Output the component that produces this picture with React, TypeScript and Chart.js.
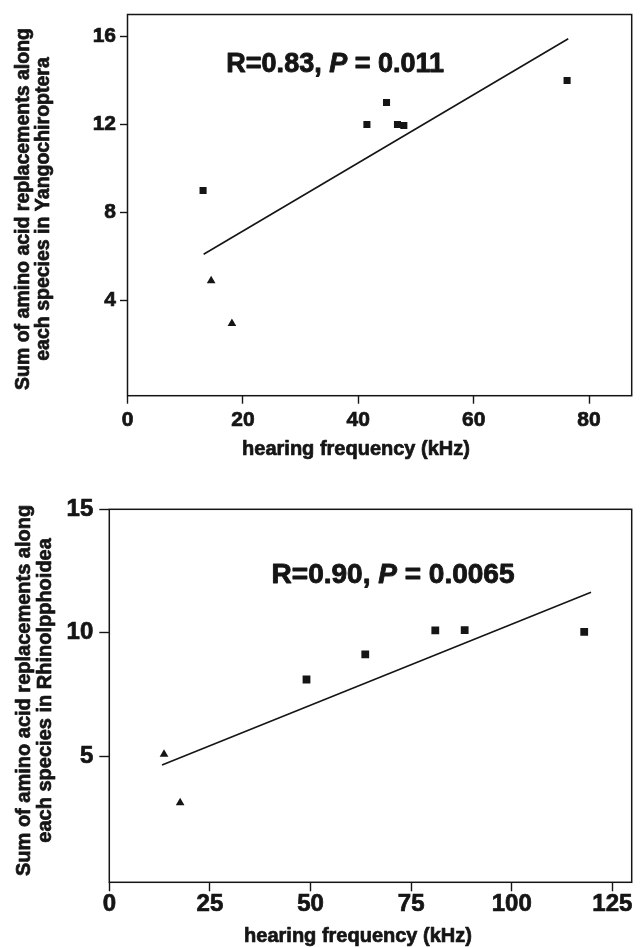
import React, { useEffect, useRef } from 'react';
import { Chart, registerables } from 'chart.js';

Chart.register(...registerables);

const FONT = '"Liberation Sans", Arial, Helvetica, sans-serif';
const INK = '#151515';
const TEXT_STROKE = 0.7;

// ---------- Panel A: Yangochiroptera ----------
const TOP_SQUARE_X = [13.1, 41.5, 44.9, 46.8, 47.9, 76.2];
const TOP_SQUARE_Y = [9, 12, 13, 12, 11.95, 14];
const TOP_TRIANGLE_X = [14.5, 18.1];
const TOP_TRIANGLE_Y = [4.9, 2.95];
const TOP_FIT_X = [13.2, 76.4];
const TOP_FIT_Y = [6.1, 15.9];
const TOP_X_TICKS = [0, 20, 40, 60, 80];
const TOP_Y_TICKS = [4, 8, 12, 16];
const TOP_Y_TITLE = ['Sum of amino acid replacements along', 'each species in Yangochiroptera'];
const TOP_NOTE = ['R=0.83, ', 'P', ' = 0.011'];

// ---------- Panel B: Rhinolophoidea ----------
const BOT_SQUARE_X = [49.0, 63.6, 81.0, 88.3, 118.0];
const BOT_SQUARE_Y = [8.11, 9.13, 10.1, 10.11, 10.04];
const BOT_TRIANGLE_X = [13.6, 17.6];
const BOT_TRIANGLE_Y = [5.08, 3.12];
const BOT_FIT_X = [13.1, 119.7];
const BOT_FIT_Y = [4.65, 11.64];
const BOT_X_TICKS = [0, 25, 50, 75, 100, 125];
const BOT_Y_TICKS = [5, 10, 15];
const BOT_Y_TITLE = ['Sum of amino acid replacements along', 'each species in Rhinolpphoidea'];
const BOT_NOTE = ['R=0.90, ', 'P', ' = 0.0065'];

const X_TITLE = 'hearing frequency (kHz)';

const toPoints = (xs: number[], ys: number[]) => xs.map((x, i) => ({ x, y: ys[i] }));

function paintText(ctx: CanvasRenderingContext2D, s: string, x: number, y: number) {
  ctx.strokeText(s, x, y);
  ctx.fillText(s, x, y);
}

const panelPlugin = {
  id: 'panelText',
  afterDraw(chart: any, _args: any, opts: any) {
    const ctx = chart.ctx as CanvasRenderingContext2D;
    const a = chart.chartArea;
    ctx.save();
    // frame
    ctx.strokeStyle = INK;
    ctx.lineWidth = 1.5;
    ctx.strokeRect(a.left, a.top, a.right - a.left, a.bottom - a.top);

    ctx.fillStyle = INK;
    ctx.lineWidth = TEXT_STROKE;
    ctx.lineJoin = 'round';
    ctx.textBaseline = 'alphabetic';

    // x title
    ctx.textAlign = 'center';
    ctx.font = `bold ${opts.xTitleSize}px ${FONT}`;
    paintText(ctx, opts.xTitle, opts.xTitleX, opts.xTitleBaseline);

    // y title (rotated)
    ctx.save();
    ctx.translate(0, opts.yTitleCenter);
    ctx.rotate(-Math.PI / 2);
    ctx.font = `bold ${opts.yTitleSize}px ${FONT}`;
    ctx.textAlign = 'center';
    (opts.yTitle as string[]).forEach((line, i) => paintText(ctx, line, 0, opts.yTitleBaselines[i]));
    ctx.restore();

    // annotation with italic P
    const segs = opts.note as string[];
    const size = opts.noteSize;
    const fonts = [`bold ${size}px ${FONT}`, `italic bold ${size}px ${FONT}`, `bold ${size}px ${FONT}`];
    const widths = segs.map((s, i) => {
      ctx.font = fonts[i];
      return ctx.measureText(s).width;
    });
    const total = widths.reduce((p, c) => p + c, 0);
    const cx = chart.scales.x.getPixelForValue(opts.noteX);
    const cy = chart.scales.y.getPixelForValue(opts.noteY);
    let x = cx - total / 2;
    ctx.textAlign = 'left';
    ctx.lineWidth = TEXT_STROKE + 0.2;
    segs.forEach((s, i) => {
      ctx.font = fonts[i];
      paintText(ctx, s, x, cy + 0.358 * size);
      x += widths[i];
    });
    ctx.restore();
  },
};

function makeConfig(p: any) {
  return {
    type: 'scatter',
    data: {
      datasets: [
        {
          data: toPoints(p.fitX, p.fitY),
          showLine: true,
          borderColor: INK,
          borderWidth: 1.6,
          pointRadius: 0,
          fill: false,
        },
        {
          data: toPoints(p.sqX, p.sqY),
          pointStyle: 'rect',
          pointRadius: p.sqRadius,
          backgroundColor: INK,
          borderColor: INK,
          borderWidth: 0,
        },
        {
          data: toPoints(p.triX, p.triY),
          pointStyle: 'triangle',
          pointRadius: 5,
          backgroundColor: INK,
          borderColor: INK,
          borderWidth: 0,
        },
      ],
    },
    options: {
      animation: false,
      responsive: false,
      events: [],
      layout: { padding: { left: 0, top: p.padTop, right: p.padRight, bottom: 0 } },
      plugins: {
        legend: { display: false },
        tooltip: { enabled: false },
        panelText: {
          xTitle: X_TITLE,
          xTitleSize: p.xTitleSize,
          xTitleX: p.xTitleX,
          xTitleBaseline: p.xTitleBaseline,
          yTitle: p.yTitle,
          yTitleSize: p.yTitleSize,
          yTitleCenter: p.yTitleCenter,
          yTitleBaselines: p.yTitleBaselines,
          note: p.note,
          noteSize: p.noteSize,
          noteX: p.noteX,
          noteY: p.noteY,
        },
      },
      scales: {
        x: {
          type: 'linear',
          min: p.xMin,
          max: p.xMax,
          afterBuildTicks: (axis: any) => {
            axis.ticks = p.xTicks.map((v: number) => ({ value: v }));
          },
          afterFit: (axis: any) => {
            axis.height = p.xAxisHeight;
          },
          border: { display: false },
          grid: {
            drawOnChartArea: false,
            drawTicks: true,
            tickLength: p.xTickLength,
            tickColor: INK,
            tickWidth: 1.4,
            color: INK,
          },
          ticks: {
            color: INK,
            textStrokeColor: INK,
            textStrokeWidth: TEXT_STROKE,
            padding: p.xTickPad,
            maxRotation: 0,
            font: { family: FONT, size: p.tickSize, weight: 'bold', lineHeight: 1 },
          },
        },
        y: {
          type: 'linear',
          min: p.yMin,
          max: p.yMax,
          afterBuildTicks: (axis: any) => {
            axis.ticks = p.yTicks.map((v: number) => ({ value: v }));
          },
          afterFit: (axis: any) => {
            axis.width = p.yAxisWidth;
          },
          border: { display: false },
          grid: {
            drawOnChartArea: false,
            drawTicks: true,
            tickLength: p.yTickLength,
            tickColor: INK,
            tickWidth: 1.4,
            color: INK,
          },
          ticks: {
            color: INK,
            textStrokeColor: INK,
            textStrokeWidth: TEXT_STROKE,
            padding: p.yTickPad,
            font: { family: FONT, size: p.tickSize, weight: 'bold', lineHeight: 1 },
          },
        },
      },
    },
    plugins: [panelPlugin],
  } as any;
}

const TOP_PANEL = {
  fitX: TOP_FIT_X, fitY: TOP_FIT_Y,
  sqX: TOP_SQUARE_X, sqY: TOP_SQUARE_Y, sqRadius: 5,
  triX: TOP_TRIANGLE_X, triY: TOP_TRIANGLE_Y,
  xTicks: TOP_X_TICKS, yTicks: TOP_Y_TICKS,
  xMin: 0, xMax: 87.4, yMin: -0.33, yMax: 17,
  padTop: 9.3, padRight: 8.3,
  yAxisWidth: 127.5, xAxisHeight: 470 - 395.7,
  xTickLength: 8, yTickLength: 7.5, xTickPad: 6, yTickPad: 4,
  tickSize: 21,
  xTitleSize: 20, xTitleX: 356, xTitleBaseline: 455,
  yTitle: TOP_Y_TITLE, yTitleSize: 19.5, yTitleCenter: 209, yTitleBaselines: [29, 49],
  note: TOP_NOTE, noteSize: 27, noteX: 36.0, noteY: 14.83,
};

const BOT_PANEL = {
  fitX: BOT_FIT_X, fitY: BOT_FIT_Y,
  sqX: BOT_SQUARE_X, sqY: BOT_SQUARE_Y, sqRadius: 5.5,
  triX: BOT_TRIANGLE_X, triY: BOT_TRIANGLE_Y,
  xTicks: BOT_X_TICKS, yTicks: BOT_Y_TICKS,
  xMin: 0, xMax: 129.8, yMin: -0.1, yMax: 15,
  padTop: 39.3, padRight: 8.3,
  yAxisWidth: 109.3, xAxisHeight: 478 - 412.3,
  xTickLength: 9, yTickLength: 10, xTickPad: 1, yTickPad: 6,
  tickSize: 24,
  xTitleSize: 20, xTitleX: 358, xTitleBaseline: 471.5,
  yTitle: BOT_Y_TITLE, yTitleSize: 20, yTitleCenter: 220.4, yTitleBaselines: [29.5, 51],
  note: BOT_NOTE, noteSize: 28, noteX: 70.5, noteY: 12.44,
};

function Panel({ panel, top, height }: { panel: any; top: number; height: number }) {
  const ref = useRef<HTMLCanvasElement | null>(null);
  useEffect(() => {
    if (!ref.current) return;
    const chart = new Chart(ref.current, makeConfig(panel));
    return () => chart.destroy();
  }, [panel]);
  return (
    <div style={{ position: 'absolute', left: 0, top, width: 640, height }}>
      <canvas ref={ref} width={640} height={height} style={{ width: 640, height, display: 'block' }} />
    </div>
  );
}

export default function App() {
  return (
    <div style={{ position: 'absolute', left: 0, top: 0, width: 640, height: 948, background: '#fff' }}>
      <Panel panel={TOP_PANEL} top={0} height={470} />
      <Panel panel={BOT_PANEL} top={470} height={478} />
    </div>
  );
}
